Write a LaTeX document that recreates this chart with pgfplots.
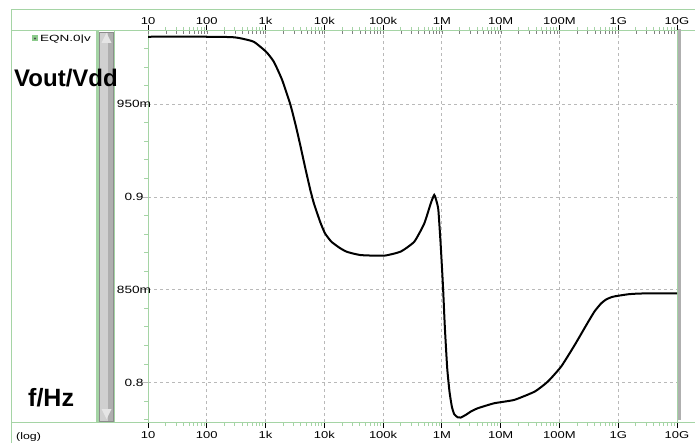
\documentclass[border=0pt]{standalone}
\usepackage{fontspec}
\setmainfont{Liberation Sans}
\newfontfamily\tickfont[FakeStretch=1.3]{Liberation Sans}
\newfontfamily\widefont[FakeStretch=1.5]{Liberation Sans}
\usepackage{pgfplots}
\usepackage{pgfplotstable}
\pgfplotsset{compat=1.18}
\definecolor{axgreen}{RGB}{165,212,165}
\definecolor{gridgray}{RGB}{185,185,185}
\definecolor{sbgray}{RGB}{208,208,208}
\definecolor{sbdark}{RGB}{175,175,175}
\pgfplotstableread{
f v
10 0.9863
100 0.9863
269 0.9861
371.5 0.9855
631 0.9836
1023 0.9782
1380 0.9729
1905 0.9632
2630 0.9500
3236 0.9390
3890 0.9280
4786 0.9150
5754 0.9040
6607 0.8968
8511 0.8865
10233 0.8805
13183 0.8759
18621 0.8724
24547 0.8704
41687 0.8687
104713 0.8684
199526 0.8706
338844 0.8759
501187 0.8857
645654 0.8965
741310 0.9011
812831 0.8975
870964 0.8930
954993 0.8740
1.0471e6 0.8510
1.1220e6 0.8300
1.2303e6 0.8080
1.3490e6 0.7950
1.4791e6 0.7870
1.6218e6 0.7830
1.8621e6 0.7813
2.0893e6 0.7812
2.5704e6 0.7827
3.0903e6 0.7844
4.0738e6 0.7862
7.7625e6 0.7889
1.6982e7 0.7907
3.8019e7 0.7952
6.3096e7 0.8005
1.0715e8 0.8087
1.8197e8 0.8203
3.0903e8 0.8328
3.9811e8 0.8385
5.1286e8 0.8427
6.3096e8 0.8449
7.9433e8 0.8462
1e9 0.8468
1.4791e9 0.8476
1.9953e9 0.8479
3.2359e9 0.8481
1e10 0.8481
}\curve
\begin{document}
\begin{tikzpicture}[x=1pt,y=1pt]
\useasboundingbox (0,0) rectangle (695,-443);
% frame
\draw[axgreen, line width=1pt] (11,-10) -- (695,-10);
\draw[axgreen, line width=1pt] (11,-10) -- (11,-443);
\draw[axgreen, line width=1pt] (11,-31) -- (695,-31);
\draw[axgreen, line width=1pt] (11,-422) -- (695,-422);
\draw[axgreen, line width=2.5pt] (97.5,-31) -- (97.5,-422);
\draw[axgreen, line width=1pt] (114.5,-31) -- (114.5,-422);
% scrollbar
\fill[sbgray] (99.5,-32) rectangle (113.5,-421);
\fill[sbdark] (108,-32) rectangle (113.5,-421);
\draw[sbdark!80!black, line width=0.6pt] (99.5,-32) rectangle (113.5,-421);
\fill[white!80!gray] (101.5,-43) -- (111.5,-43) -- (106.5,-33) -- cycle;
\fill[white!80!gray] (101.5,-409) -- (111.5,-409) -- (106.5,-419) -- cycle;
% right bar
\fill[sbdark] (677,-29) rectangle (681,-420);
% main axis
\begin{axis}[
  at={(148pt,-422pt)}, anchor=south west, scale only axis,
  width=529pt, height=391pt,
  xmode=log, xmin=10, xmax=1e10, ymin=0.7788, ymax=0.9894,
  xtick={1e1,1e2,1e3,1e4,1e5,1e6,1e7,1e8,1e9,1e10},
  xticklabels={10,100,1k,10k,100k,1M,10M,100M,1G,10G},
  xticklabel style={font=\tickfont\fontsize{10}{10}\selectfont},
  ytick={0.8,0.85,0.9,0.95},
  yticklabels={0.8,850m,0.9,950m},
  minor ytick={0.78,0.79,0.81,0.82,0.83,0.84,0.86,0.87,0.88,0.89,0.91,0.92,0.93,0.94,0.96,0.97,0.98},
  minor xtick={2e1,3e1,4e1,5e1,6e1,7e1,8e1,9e1,2e2,3e2,4e2,5e2,6e2,7e2,8e2,9e2,2e3,3e3,4e3,5e3,6e3,7e3,8e3,9e3,2e4,3e4,4e4,5e4,6e4,7e4,8e4,9e4,2e5,3e5,4e5,5e5,6e5,7e5,8e5,9e5,2e6,3e6,4e6,5e6,6e6,7e6,8e6,9e6,2e7,3e7,4e7,5e7,6e7,7e7,8e7,9e7,2e8,3e8,4e8,5e8,6e8,7e8,8e8,9e8,2e9,3e9,4e9,5e9,6e9,7e9,8e9,9e9},
  yticklabel style={font=\tickfont\fontsize{10.5}{10.5}\selectfont, anchor=center, xshift=-8pt},
  ytick pos=left, xtick pos=both,
  axis line style={axgreen, line width=1pt},
  grid=major, major grid style={gridgray, dashed, line width=0.8pt},
  tick align=outside,
  major tick length=6pt, minor tick length=4pt,
  every major x tick/.append style={black, line width=1pt},
  every minor x tick/.append style={axgreen, line width=1pt},
  every major y tick/.append style={gridgray, line width=0.8pt},
  every minor y tick/.append style={axgreen, line width=1pt},
  xticklabel shift=0pt,
  clip=false,
]
\addplot[black, line width=2pt, smooth, tension=0.3] table[x=f, y=v] {\curve};
\end{axis}
% top labels
\begin{axis}[
  at={(148pt,-422pt)}, anchor=south west, scale only axis,
  width=529pt, height=391pt,
  xmode=log, xmin=10, xmax=1e10, ymin=0.7788, ymax=0.9894,
  xtick={1e1,1e2,1e3,1e4,1e5,1e6,1e7,1e8,1e9,1e10},
  xticklabels={10,100,1k,10k,100k,1M,10M,100M,1G,10G},
  xticklabel style={font=\tickfont\fontsize{10}{10}\selectfont},
  hide y axis, axis x line*=top, axis line style={draw=none},
  major tick length=0pt, minor x tick num=0,
  xticklabel shift=3pt,
]
\addplot[draw=none] table[x=f, y=v] {\curve};
\end{axis}
% texts
\node[font=\bfseries\fontsize{24}{24}\selectfont, anchor=west, inner sep=0pt] at (14,-78) {Vout/Vdd};
\node[font=\bfseries\fontsize{25}{25}\selectfont, anchor=west, inner sep=0pt] at (28,-398) {f/Hz};
\fill[green!55!black!45] (32,-35.5) rectangle (38,-41.5);
\fill[black!70] (35,-38.5) circle (1.2);
\node[font=\widefont\fontsize{9}{9}\selectfont, anchor=west, inner sep=0pt] at (40,-39) {EQN.0|v};
\node[font=\tickfont\fontsize{9.5}{9.5}\selectfont, anchor=west, inner sep=0pt] at (16,-437) {(log)};
\end{tikzpicture}
\end{document}
